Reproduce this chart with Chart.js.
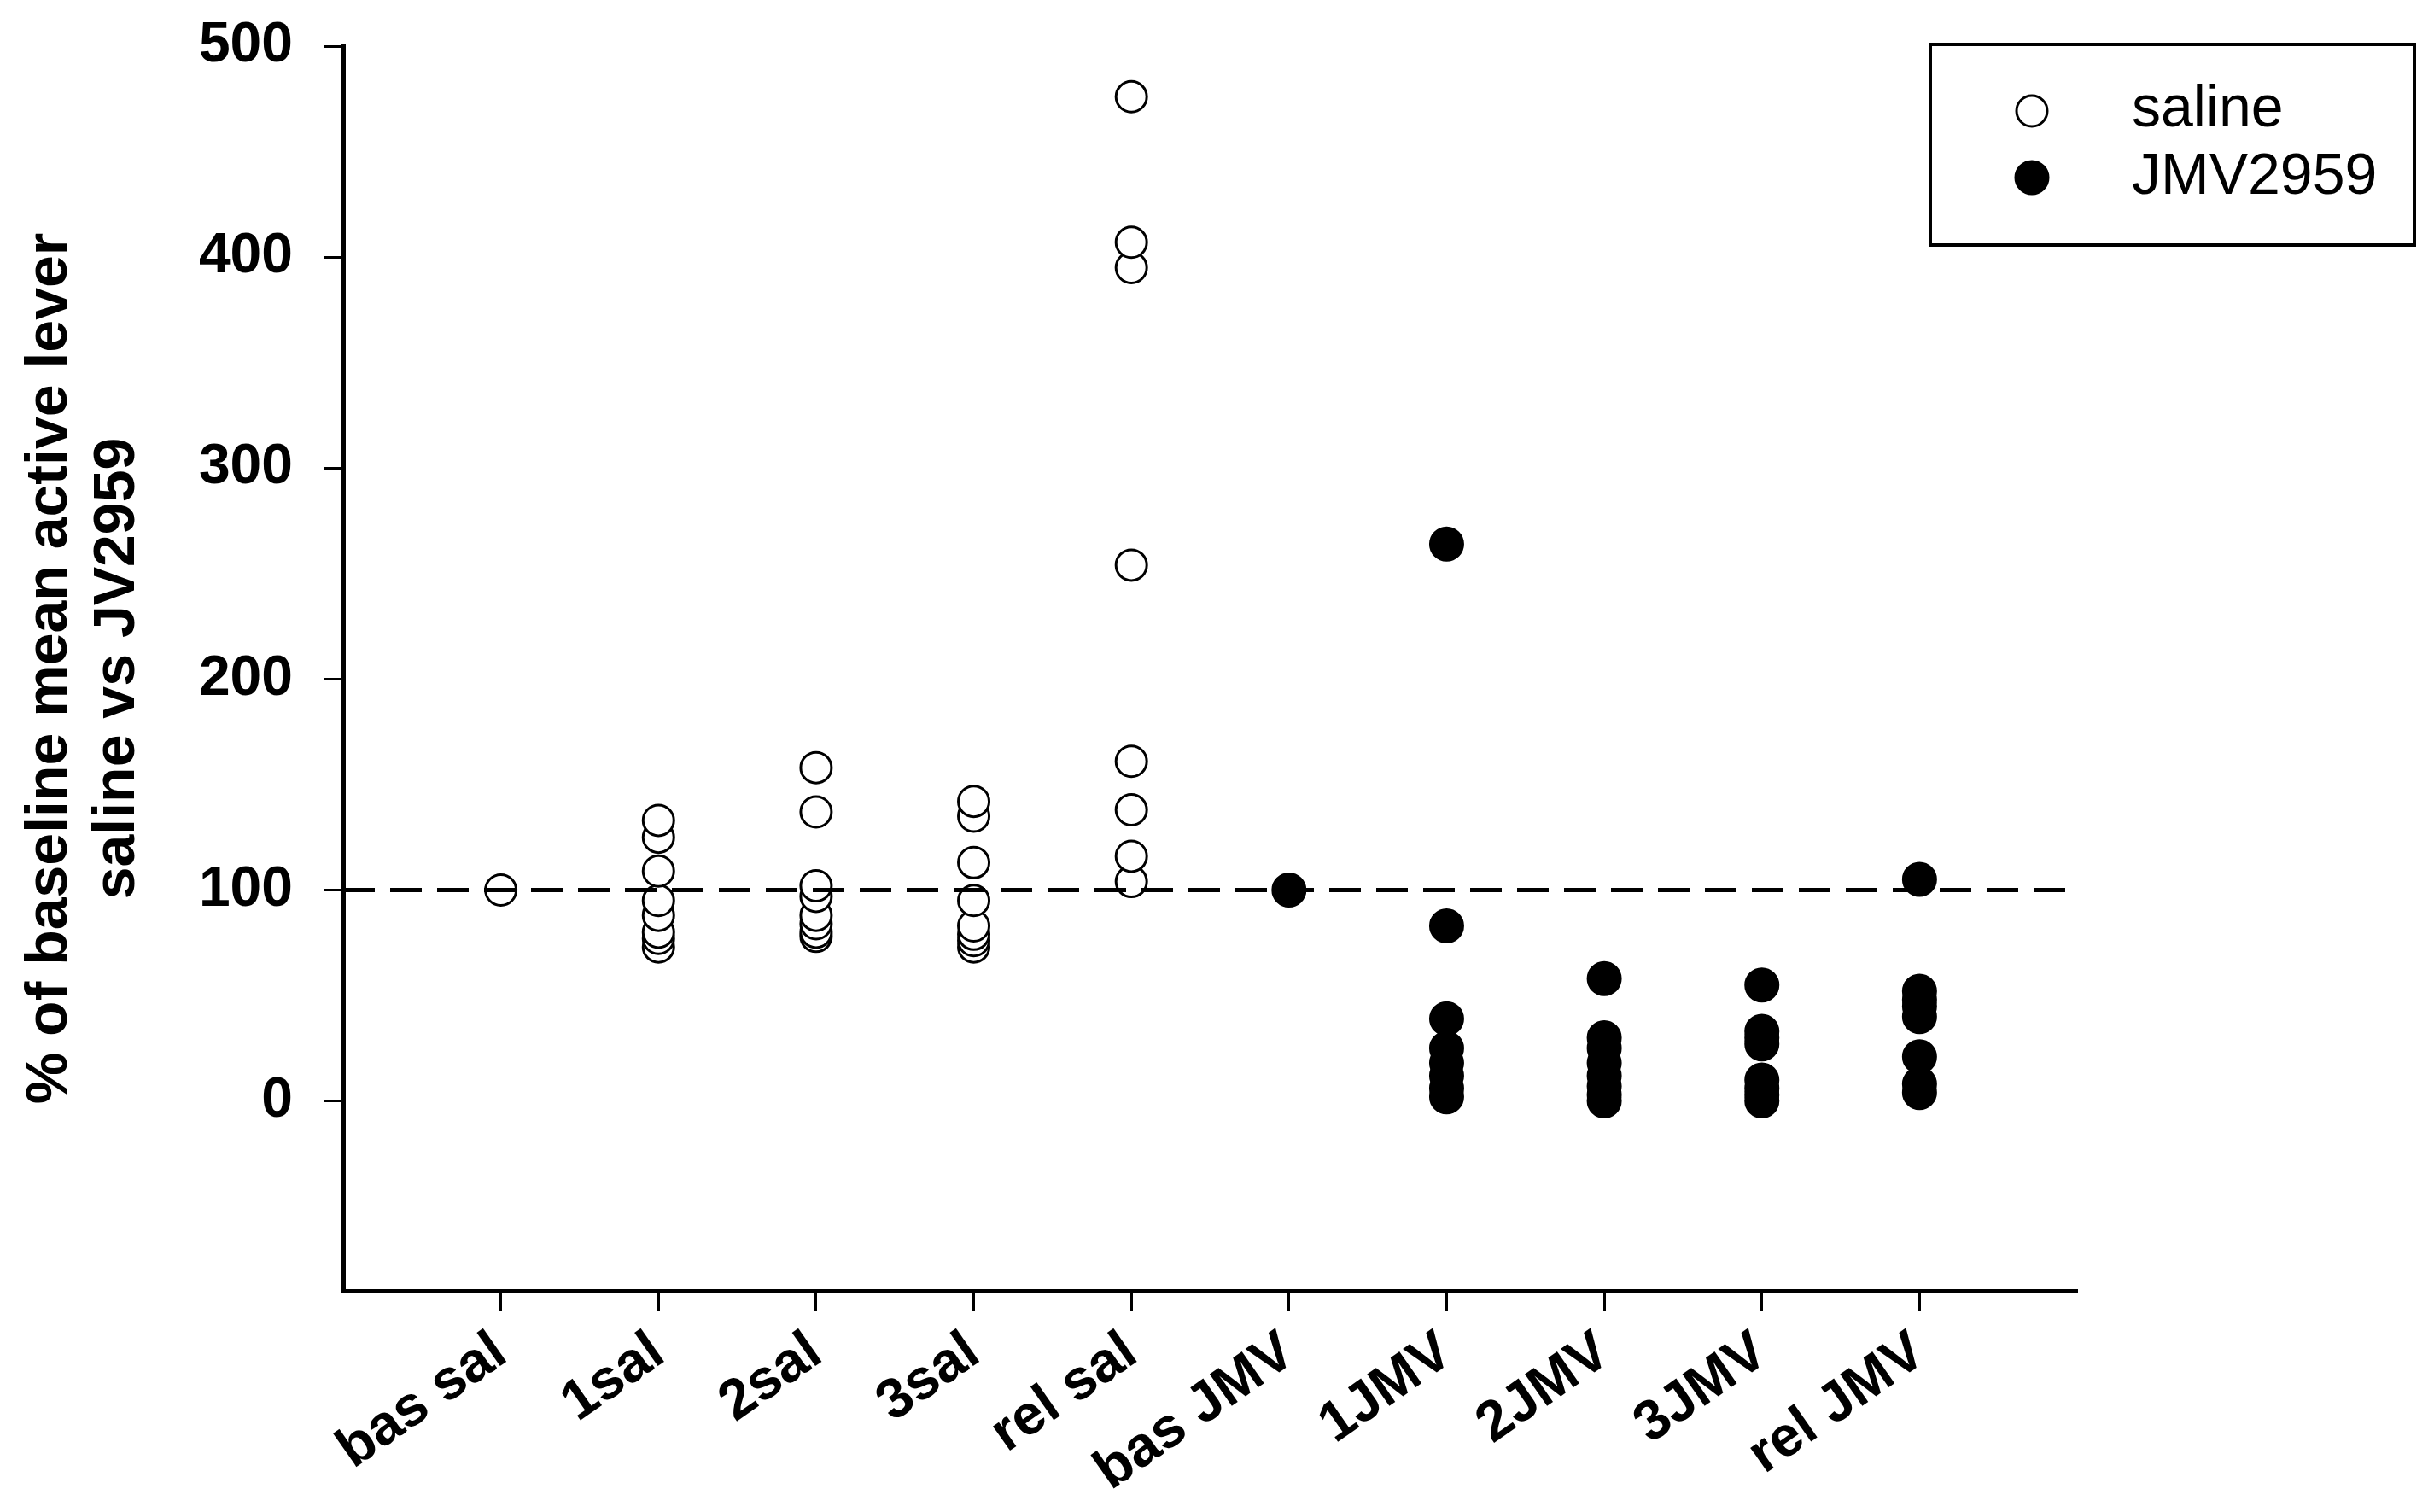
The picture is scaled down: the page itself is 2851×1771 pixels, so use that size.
<!DOCTYPE html>
<html>
<head>
<meta charset="utf-8">
<script src="https://cdn.jsdelivr.net/npm/chart.js@4/dist/chart.umd.min.js"></script>
<style>
  html, body { margin: 0; padding: 0; background: #ffffff; }
  #wrap { width: 2851px; height: 1771px; }
</style>
</head>
<body>
<div id="wrap"><canvas id="c" width="2851" height="1771"></canvas></div>
<script>
// ---- data ----
const categories = ['bas sal', '1sal', '2sal', '3sal', 'rel sal', 'bas JMV', '1JMV', '2JMV', '3JMV', 'rel JMV'];
const categoryPositions = [1, 2, 3, 4, 5, 6, 7, 8, 9, 10];
const yTickValues = [0, 100, 200, 300, 400, 500];
const seriesNames = ['saline', 'JMV2959'];
const yAxisTitle = ['% of baseline mean active lever', 'saline vs JV2959'];

// saline group values (% of baseline)
const basSal = [100];
const sal1   = [73, 77, 80, 88, 95, 109, 125, 133];
const sal2   = [78, 80, 84, 88, 97, 102, 137, 158];
const sal3   = [73, 76, 79, 83, 95, 113, 135, 142];
const relSal = [104, 116, 138, 161, 254, 395, 407, 476];

// JMV2959 group values (% of baseline)
const basJmv = [100];
const jmv1   = [2, 6, 12, 18, 25, 39, 83, 264];
const jmv2   = [0, 3, 7, 12, 18, 25, 30, 58];
const jmv3   = [0, 3, 6, 10, 27, 30, 33, 55];
const relJmv = [4, 8, 21, 40, 45, 48, 52, 105];

// dashed 100 % reference line
const baselineX = [0, 10.93];
const baselineY = [100, 100];

// ---- build library data from the arrays ----
function toPoints(pos, values) { return values.map(v => ({ x: pos, y: v })); }
const salineGroups = [basSal, sal1, sal2, sal3, relSal];
const jmvGroups = [basJmv, jmv1, jmv2, jmv3, relJmv];
const salinePoints = salineGroups.flatMap((vals, i) => toPoints(categoryPositions[i], vals));
const jmvPoints = jmvGroups.flatMap((vals, i) => toPoints(categoryPositions[i + 5], vals));
const baselinePoints = baselineX.map((x, i) => ({ x: x, y: baselineY[i] }));

const FONT = '"Liberation Sans", Arial, sans-serif';

const boxLegend = {
  id: 'boxLegend',
  afterDraw(chart) {
    const ctx = chart.ctx;
    const a = chart.chartArea;
    const x0 = a.right - 172, y0 = 52, w = 567, h = 235;
    ctx.save();
    ctx.lineWidth = 4;
    ctx.strokeStyle = '#000';
    ctx.strokeRect(x0, y0, w, h);
    const rows = [
      { ds: 1, cy: y0 + 78, base: y0 + 96 },
      { ds: 2, cy: y0 + 156, base: y0 + 175 }
    ];
    rows.forEach(r => {
      const d = chart.data.datasets[r.ds];
      const cx = x0 + 119;
      ctx.beginPath();
      ctx.arc(cx, r.cy, d.pointRadius, 0, Math.PI * 2);
      ctx.fillStyle = d.pointBackgroundColor;
      ctx.fill();
      ctx.lineWidth = d.pointBorderWidth;
      ctx.strokeStyle = d.pointBorderColor;
      ctx.stroke();
      ctx.fillStyle = '#000';
      ctx.font = '68px ' + FONT;
      ctx.textAlign = 'left';
      ctx.textBaseline = 'alphabetic';
      ctx.fillText(d.label, x0 + 236, r.base);
    });
    ctx.restore();
  }
};

new Chart(document.getElementById('c'), {
  type: 'scatter',
  data: {
    datasets: [
      {
        label: 'baseline',
        type: 'line',
        data: baselinePoints,
        showLine: true,
        borderColor: '#000',
        borderWidth: 5,
        borderDash: [37, 18],
        pointRadius: 0,
        fill: false,
        order: -1
      },
      {
        label: seriesNames[0],
        data: salinePoints,
        pointRadius: 18,
        pointBorderWidth: 3,
        pointBackgroundColor: '#ffffff',
        pointBorderColor: '#000000',
        backgroundColor: '#ffffff',
        borderColor: '#000000',
        order: 1
      },
      {
        label: seriesNames[1],
        data: jmvPoints,
        pointRadius: 19,
        pointBorderWidth: 3,
        pointBackgroundColor: '#000000',
        pointBorderColor: '#000000',
        backgroundColor: '#000000',
        borderColor: '#000000',
        order: 2
      }
    ]
  },
  options: {
    responsive: false,
    animation: false,
    devicePixelRatio: 1,
    layout: { padding: { top: 54, right: 418, bottom: 0, left: 0 } },
    plugins: {
      legend: { display: false },
      tooltip: { enabled: false }
    },
    scales: {
      x: {
        type: 'linear',
        min: 0,
        max: 11,
        afterBuildTicks(scale) { scale.ticks = categoryPositions.map(v => ({ value: v })); },
        afterFit(scale) { scale.height = 259; },
        ticks: {
          autoSkip: false,
          minRotation: 35,
          maxRotation: 35,
          padding: 10,
          color: '#000',
          font: { family: FONT, size: 66, weight: 'bold' },
          callback: (v) => categories[categoryPositions.indexOf(v)]
        },
        grid: { drawOnChartArea: false, drawTicks: true, tickLength: 23, tickWidth: 3, tickColor: '#000' },
        border: { display: true, width: 5, color: '#000' }
      },
      y: {
        type: 'linear',
        min: -90,
        max: 500,
        afterBuildTicks(scale) { scale.ticks = yTickValues.map(v => ({ value: v })); },
        afterFit(scale) { scale.width = 402; scale.paddingTop = 0; scale.paddingBottom = 0; },
        ticks: {
          padding: 36,
          color: '#000',
          font: { family: FONT, size: 66, weight: 'bold' }
        },
        title: {
          display: true,
          text: yAxisTitle,
          color: '#000',
          padding: { top: 20, bottom: 0 },
          font: { family: FONT, size: 68, weight: 'bold', lineHeight: 1.16 }
        },
        grid: { drawOnChartArea: false, drawTicks: true, tickLength: 23, tickWidth: 3, tickColor: '#000' },
        border: { display: true, width: 5, color: '#000' }
      }
    }
  },
  plugins: [boxLegend]
});
</script>
</body>
</html>
